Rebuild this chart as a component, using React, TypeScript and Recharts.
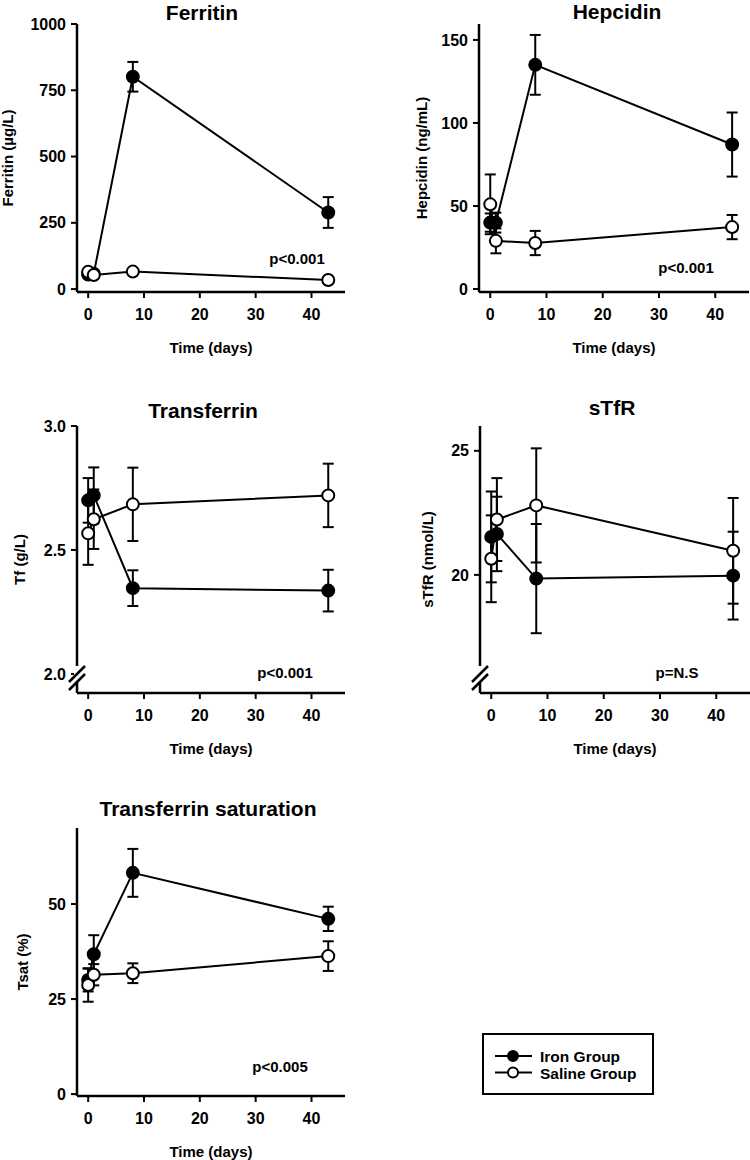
import React from 'react'
import { ComposedChart, Line, XAxis, YAxis, ErrorBar } from 'recharts'

const FONT = '"Liberation Sans", Arial, Helvetica, sans-serif'

const DAYS = [0, 1, 8, 43]
const DAY_TICKS = [0, 10, 20, 30, 40]
const GROUPS = ['Iron Group', 'Saline Group']

// mean and error (SEM) per day
const FERRITIN_IRON = [55, 58, 801, 289]
const FERRITIN_IRON_ERR = [8, 8, 56, 58]
const FERRITIN_SALINE = [65, 53, 66, 34]
const FERRITIN_SALINE_ERR = [8, 8, 8, 6]

const HEPCIDIN_IRON = [40, 40, 135, 87]
const HEPCIDIN_IRON_ERR = [5.5, 6, 18, 19.3]
const HEPCIDIN_SALINE = [51, 29, 27.7, 37.3]
const HEPCIDIN_SALINE_ERR = [18, 7.5, 7.3, 7.3]

const TF_IRON = [2.7, 2.72, 2.346, 2.336]
const TF_IRON_ERR = [0.09, 0.113, 0.072, 0.084]
const TF_SALINE = [2.567, 2.624, 2.684, 2.72]
const TF_SALINE_ERR = [0.127, 0.12, 0.148, 0.128]

const STFR_IRON = [21.53, 21.65, 19.85, 19.97]
const STFR_IRON_ERR = [1.83, 1.5, 2.2, 1.77]
const STFR_SALINE = [20.65, 22.23, 22.8, 20.97]
const STFR_SALINE_ERR = [1.75, 1.67, 2.3, 2.13]

const TSAT_IRON = [30, 36.8, 58.2, 46.1]
const TSAT_IRON_ERR = [3, 5, 6.3, 3.2]
const TSAT_SALINE = [28.7, 31.4, 31.8, 36.3]
const TSAT_SALINE_ERR = [4.4, 2.8, 2.6, 3.9]

function buildRows(iron: number[], ironErr: number[], saline: number[], salineErr: number[]) {
  return DAYS.map((day, i) => ({
    day,
    iron: iron[i],
    ironErr: ironErr[i],
    saline: saline[i],
    salineErr: salineErr[i],
  }))
}

interface PanelProps {
  left: number
  top: number
  height: number
  margin: { top: number; right: number; bottom: number; left: number }
  yWidth: number
  xHeight: number
  yDomain: [number, number]
  yTicks: number[]
  yLabel: string
  yLabelOffset: number
  decimals?: number
  rows: ReturnType<typeof buildRows>
}

const tickStyle = { fill: '#000', fontSize: 16, fontWeight: 'bold', fontFamily: FONT }
const labelStyle = { fill: '#000', fontSize: 15, fontWeight: 'bold', fontFamily: FONT, textAnchor: 'middle' as const }

function Panel(p: PanelProps) {
  return (
    <div style={{ position: 'absolute', left: p.left, top: p.top }}>
      <ComposedChart width={375} height={p.height} data={p.rows} margin={p.margin}>
        <XAxis
          dataKey="day"
          type="number"
          domain={[-2, 46]}
          ticks={DAY_TICKS}
          interval={0}
          allowDataOverflow
          height={p.xHeight}
          tick={tickStyle}
          tickSize={6}
          tickMargin={11}
          axisLine={{ stroke: '#000', strokeWidth: 2.5 }}
          tickLine={{ stroke: '#000', strokeWidth: 2 }}
          label={{ value: 'Time (days)', position: 'insideTop', offset: 50, style: labelStyle }}
        />
        <YAxis
          type="number"
          domain={p.yDomain}
          ticks={p.yTicks}
          interval={0}
          allowDataOverflow
          width={p.yWidth}
          tick={tickStyle}
          tickSize={6}
          tickMargin={5}
          tickFormatter={(v: number) => (p.decimals ? v.toFixed(p.decimals) : String(v))}
          axisLine={{ stroke: '#000', strokeWidth: 2.5 }}
          tickLine={{ stroke: '#000', strokeWidth: 2 }}
          label={{ value: p.yLabel, angle: -90, position: 'insideLeft', offset: p.yLabelOffset, style: labelStyle }}
        />
        <Line
          dataKey="iron"
          name={GROUPS[0]}
          type="linear"
          stroke="#000"
          strokeWidth={2}
          dot={{ r: 6, fill: '#000', stroke: '#000', strokeWidth: 2 }}
          activeDot={false}
          isAnimationActive={false}
        >
          <ErrorBar dataKey="ironErr" width={5.5} stroke="#000" strokeWidth={2} direction="y" />
        </Line>
        <Line
          dataKey="saline"
          name={GROUPS[1]}
          type="linear"
          stroke="#000"
          strokeWidth={2}
          dot={{ r: 6, fill: '#fff', stroke: '#000', strokeWidth: 2 }}
          activeDot={false}
          isAnimationActive={false}
        >
          <ErrorBar dataKey="salineErr" width={5.5} stroke="#000" strokeWidth={2} direction="y" />
        </Line>
      </ComposedChart>
    </div>
  )
}

const TITLES = [
  { text: 'Ferritin', x: 202, y: 20 },
  { text: 'Hepcidin', x: 617, y: 19 },
  { text: 'Transferrin', x: 203, y: 418 },
  { text: 'sTfR', x: 612, y: 415 },
  { text: 'Transferrin saturation', x: 208, y: 816 },
]

const P_VALUES = [
  { text: 'p<0.001', x: 297, y: 264 },
  { text: 'p<0.001', x: 686, y: 273 },
  { text: 'p<0.001', x: 285, y: 678 },
  { text: 'p=N.S', x: 677, y: 678 },
  { text: 'p<0.005', x: 280, y: 1072 },
]

function AxisBreak({ dx }: { dx: number }) {
  return (
    <g transform={`translate(${dx},0)`}>
      <rect x={74} y={666} width={6} height={16} fill="#fff" />
      <line x1={69} y1={682} x2={85} y2={666} stroke="#000" strokeWidth={2.5} />
      <line x1={69} y1={690} x2={85} y2={674} stroke="#000" strokeWidth={2.5} />
    </g>
  )
}

function Overlay() {
  return (
    <svg
      width={750}
      height={1160}
      style={{ position: 'absolute', left: 0, top: 0, pointerEvents: 'none', fontFamily: FONT }}
    >
      {TITLES.map((t) => (
        <text key={t.text} x={t.x} y={t.y} textAnchor="middle" fontSize={21} fontWeight="bold" fill="#000">
          {t.text}
        </text>
      ))}
      {P_VALUES.map((t, i) => (
        <text key={i} x={t.x} y={t.y} textAnchor="middle" fontSize={15} fontWeight="bold" fill="#000">
          {t.text}
        </text>
      ))}
      <AxisBreak dx={0} />
      <AxisBreak dx={403} />
      <rect x={483} y={1034} width={170} height={60} fill="none" stroke="#000" strokeWidth={2} />
      {GROUPS.map((g, i) => {
        const cy = 1056 + i * 16.5
        return (
          <g key={g}>
            <line x1={495} y1={cy} x2={532} y2={cy} stroke="#000" strokeWidth={2} />
            <circle cx={513} cy={cy} r={5} fill={i === 0 ? '#000' : '#fff'} stroke="#000" strokeWidth={2} />
            <text x={540} y={cy + 6} fontSize={15.5} fontWeight="bold" fill="#000">
              {g}
            </text>
          </g>
        )
      })}
    </svg>
  )
}

export default function App() {
  return (
    <div style={{ position: 'absolute', left: 0, top: 0, width: 750, height: 1160, background: '#fff', fontFamily: FONT }}>
      <Panel
        left={0}
        top={0}
        height={380}
        margin={{ top: 24, right: 30, bottom: 18, left: 0 }}
        yWidth={77}
        xHeight={70}
        yDomain={[-11, 1000]}
        yTicks={[0, 250, 500, 750, 1000]}
        yLabel="Ferritin (µg/L)"
        yLabelOffset={8}
        rows={buildRows(FERRITIN_IRON, FERRITIN_IRON_ERR, FERRITIN_SALINE, FERRITIN_SALINE_ERR)}
      />
      <Panel
        left={375}
        top={0}
        height={380}
        margin={{ top: 24, right: 1, bottom: 18, left: 0 }}
        yWidth={104}
        xHeight={70}
        yDomain={[-1.8, 159.6]}
        yTicks={[0, 50, 100, 150]}
        yLabel="Hepcidin (ng/mL)"
        yLabelOffset={47}
        rows={buildRows(HEPCIDIN_IRON, HEPCIDIN_IRON_ERR, HEPCIDIN_SALINE, HEPCIDIN_SALINE_ERR)}
      />
      <Panel
        left={0}
        top={400}
        height={380}
        margin={{ top: 26, right: 30, bottom: 17, left: 0 }}
        yWidth={77}
        xHeight={70}
        yDomain={[1.923, 3.0]}
        yTicks={[2.0, 2.5, 3.0]}
        decimals={1}
        yLabel="Tf (g/L)"
        yLabelOffset={20}
        rows={buildRows(TF_IRON, TF_IRON_ERR, TF_SALINE, TF_SALINE_ERR)}
      />
      <Panel
        left={375}
        top={400}
        height={380}
        margin={{ top: 26, right: 0, bottom: 17, left: 0 }}
        yWidth={105}
        xHeight={70}
        yDomain={[15.24, 26]}
        yTicks={[20, 25]}
        yLabel="sTfR (nmol/L)"
        yLabelOffset={53}
        rows={buildRows(STFR_IRON, STFR_IRON_ERR, STFR_SALINE, STFR_SALINE_ERR)}
      />
      <Panel
        left={0}
        top={770}
        height={390}
        margin={{ top: 58, right: 30, bottom: 2, left: 0 }}
        yWidth={77}
        xHeight={62}
        yDomain={[-0.5, 70]}
        yTicks={[0, 25, 50]}
        yLabel="Tsat (%)"
        yLabelOffset={23}
        rows={buildRows(TSAT_IRON, TSAT_IRON_ERR, TSAT_SALINE, TSAT_SALINE_ERR)}
      />
      <Overlay />
    </div>
  )
}
